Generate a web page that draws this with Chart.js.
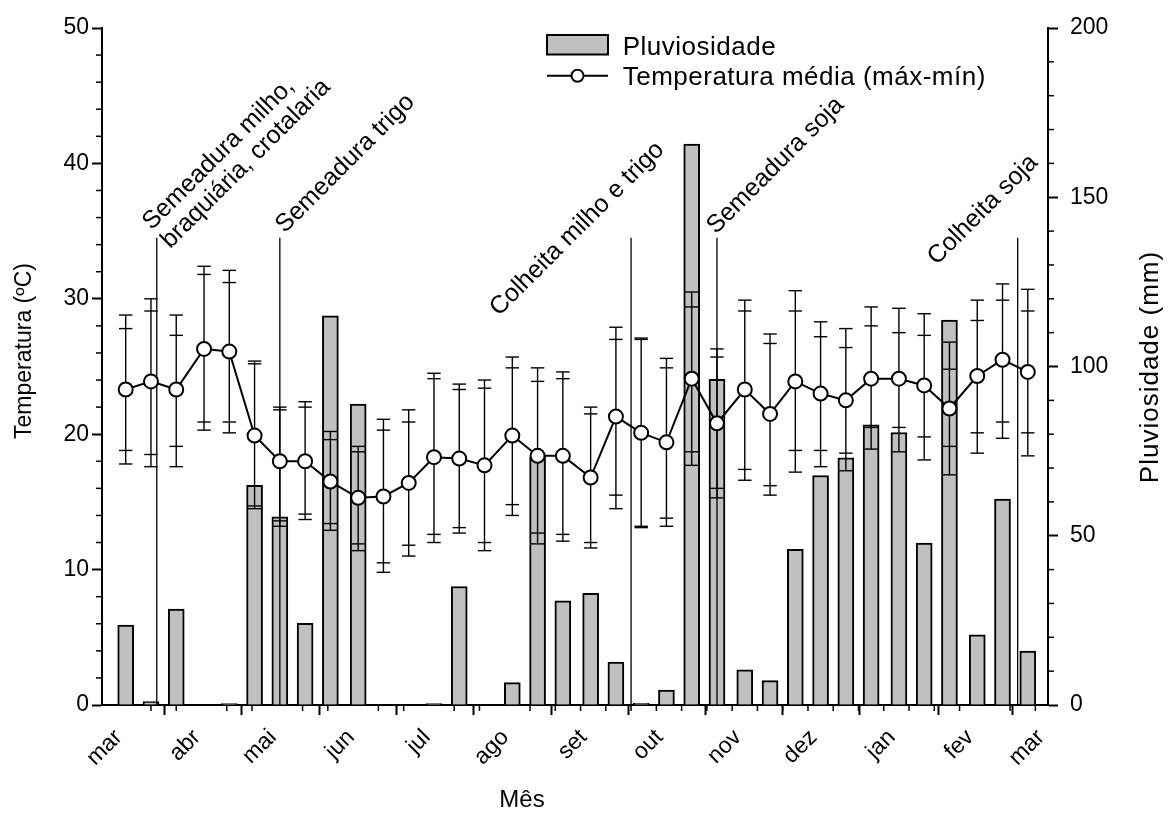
<!DOCTYPE html>
<html>
<head>
<meta charset="utf-8">
<script src="https://cdn.jsdelivr.net/npm/chart.js@4.4.1/dist/chart.umd.min.js"></script>
<style>
html,body{margin:0;padding:0;background:#fff;}
#wrap{width:1173px;height:813px;position:relative;}
</style>
</head>
<body>
<div id="wrap"><canvas id="c"></canvas></div>
<script>
// ---------------- DATA ----------------
const monthLabels = ['mar','abr','mai','jun','jul','ago','set','out','nov','dez','jan','fev','mar'];
const monthLengths = [31,30,31,30,31,31,30,31,30,31,31,28];
const decadeOffsets = [0,10,20];

// Pluviosidade (mm), one value per 10-day period (mar .. fev)
const rain = [23.6, 1.0, 28.3,   0, 0.4, 64.9,  55.6, 24.1, 115.0,  88.9, 0, 0,
              0.4, 35.0, 0,      6.6, 73.3, 30.8,  33.0, 12.7, 0.5,   4.4, 165.7, 96.2,
              10.4, 7.2, 46.0,   67.8, 73.0, 82.8, 80.5, 47.8, 113.7, 20.7, 60.8, 15.9];

// Temperatura média (°C)
const tempMean = [23.3, 23.9, 23.3, 26.3, 26.1, 19.9, 18.0, 18.0, 16.5, 15.3, 15.4, 16.4,
                  18.3, 18.2, 17.7, 19.9, 18.4, 18.4, 16.8, 21.3, 20.1, 19.4, 24.1, 20.8,
                  23.3, 21.5, 23.9, 23.0, 22.5, 24.1, 24.1, 23.6, 21.9, 24.3, 25.5, 24.6];
// whisker caps (máx / mín)
const tempMaxOuter = [28.8, 30.0, 28.8, 32.4, 32.1, 25.4, 22.0, 22.4, 20.2, 19.1, 21.1, 21.8,
                      24.5, 23.7, 24.0, 25.7, 24.9, 24.6, 22.0, 27.9, 27.1, 25.6, 30.5, 26.3,
                      29.9, 27.4, 30.6, 28.3, 27.8, 29.4, 29.3, 28.9, 26.8, 29.9, 31.1, 30.7];
const tempMaxInner = [27.8, 29.1, 27.3, 31.8, 31.2, 25.2, 21.8, 22.0, 19.6, 18.7, 20.3, 20.9,
                      24.1, 23.3, 23.4, 24.9, 23.9, 24.1, 21.5, 27.0, 27.0, 24.9, 29.4, 25.7,
                      29.1, 26.7, 29.1, 27.2, 26.4, 28.0, 27.5, 27.3, 24.8, 28.4, 29.9, 29.1];
const tempMinInner = [18.8, 18.5, 19.1, 20.9, 20.9, 14.7, 13.6, 14.1, 13.4, 11.9, 10.5, 11.8,
                      12.6, 13.1, 12.0, 14.8, 12.7, 12.6, 12.0, 15.5, 13.2, 13.8, 18.7, 16.0,
                      17.4, 16.2, 18.8, 18.8, 18.6, 20.5, 20.5, 19.8, 19.1, 20.1, 20.9, 20.1];
const tempMinOuter = [17.8, 17.6, 17.6, 20.3, 20.1, 14.5, 13.2, 13.7, 12.9, 11.4,  9.8, 11.0,
                      12.0, 12.7, 11.4, 14.0, 11.9, 12.1, 11.6, 14.5, 13.1, 13.2, 17.7, 15.3,
                      16.6, 15.5, 17.2, 17.6, 17.3, 18.9, 18.7, 18.1, 17.0, 18.6, 19.7, 18.4];

// Field operations (day counted from 1 March)
const eventDays = [12.3, 61, 200, 234, 353];
const eventLabels = [['Semeadura milho,', 'braquiária, crotalaria'], ['Semeadura trigo'],
                     ['Colheita milho e trigo'], ['Semeadura soja'], ['Colheita soja']];
const eventTop = 34.5; // top of the marker lines, on the temperature scale

// ---------------- DERIVED (calendar) ----------------
const monthStarts = [];
{ let acc = 0; monthLengths.forEach(L => { monthStarts.push(acc); acc += L; }); monthStarts.push(acc); }
const pointDays = [];
monthStarts.slice(0, 12).forEach(s => decadeOffsets.forEach(o => pointDays.push(s + o)));

// ---------------- STYLE ----------------
const FONT = '"Liberation Sans", Arial, Helvetica, sans-serif';
const labelOffsets = [[-5, -7], [5, -4], [-132, 79], [-1, -3], [-81, 28]];

const overlay = {
  id: 'overlay',
  beforeDatasetDraw(chart, args) {
    if (args.index !== 1) return;
    const ctx = chart.ctx, x = chart.scales.x, y = chart.scales.y;
    ctx.save();
    ctx.strokeStyle = '#000';
    // event marker lines
    ctx.lineWidth = 1.3;
    eventDays.forEach(d => {
      const px = x.getPixelForValue(d);
      ctx.beginPath();
      ctx.moveTo(px, y.getPixelForValue(eventTop));
      ctx.lineTo(px, y.getPixelForValue(0));
      ctx.stroke();
    });
    // error bars
    ctx.lineWidth = 1.4;
    pointDays.forEach((d, i) => {
      const px = x.getPixelForValue(d);
      ctx.beginPath();
      ctx.moveTo(px, y.getPixelForValue(tempMaxOuter[i]));
      ctx.lineTo(px, y.getPixelForValue(tempMinOuter[i]));
      ctx.stroke();
      [tempMaxOuter, tempMaxInner, tempMinInner, tempMinOuter].forEach(arr => {
        const py = y.getPixelForValue(arr[i]);
        ctx.beginPath();
        ctx.moveTo(px - 6.7, py);
        ctx.lineTo(px + 6.7, py);
        ctx.stroke();
      });
    });
    ctx.restore();
  },
  afterDraw(chart) {
    const ctx = chart.ctx, x = chart.scales.x, y = chart.scales.y, y2 = chart.scales.y2;
    const ca = chart.chartArea;
    ctx.save();
    ctx.strokeStyle = '#000';
    ctx.fillStyle = '#000';
    // minor ticks
    ctx.lineWidth = 1.5;
    for (let d = 10; d < 365; d += 10) {
      if (monthStarts.some(m => Math.abs(m - d) <= 3)) continue;
      const px = x.getPixelForValue(d);
      ctx.beginPath(); ctx.moveTo(px, ca.bottom); ctx.lineTo(px, ca.bottom + 6); ctx.stroke();
    }
    for (let v = 2; v < 50; v += 2) {
      if (v % 10 === 0) continue;
      const py = y.getPixelForValue(v);
      ctx.beginPath(); ctx.moveTo(ca.left - 6, py); ctx.lineTo(ca.left, py); ctx.stroke();
    }
    for (let v = 10; v < 200; v += 10) {
      if (v % 50 === 0) continue;
      const py = y2.getPixelForValue(v);
      ctx.beginPath(); ctx.moveTo(ca.right, py); ctx.lineTo(ca.right + 6, py); ctx.stroke();
    }
    // event labels
    ctx.font = '25px ' + FONT;
    ctx.textAlign = 'left';
    ctx.textBaseline = 'alphabetic';
    eventLabels.forEach((lines, k) => {
      const px = x.getPixelForValue(eventDays[k]) + labelOffsets[k][0];
      const py = y.getPixelForValue(eventTop) + labelOffsets[k][1];
      ctx.save();
      ctx.translate(px, py);
      ctx.rotate(-Math.PI / 4);
      lines.forEach((t, j) => ctx.fillText(t, 0, j * 26));
      ctx.restore();
    });
    // axis titles
    ctx.textAlign = 'center';
    ctx.textBaseline = 'middle';
    ctx.font = '23px ' + FONT;
    ctx.save(); ctx.translate(25, 351); ctx.rotate(-Math.PI / 2);
    ctx.fillText('Temperatura (ºC)', 0, 0); ctx.restore();
    ctx.save(); ctx.font = '26px ' + FONT; ctx.letterSpacing = '1px';
    ctx.translate(1151, 367); ctx.rotate(-Math.PI / 2);
    ctx.fillText('Pluviosidade (mm)', 0, 0); ctx.restore();
    ctx.font = '24px ' + FONT;
    ctx.textBaseline = 'alphabetic';
    ctx.fillText('Mês', 522, 807);
    // legend
    ctx.textAlign = 'left';
    ctx.font = '26px ' + FONT;
    ctx.letterSpacing = '0.5px';
    ctx.lineWidth = 2;
    ctx.fillStyle = '#c0c0c0';
    ctx.fillRect(547, 35, 61, 19.5);
    ctx.strokeRect(547, 35, 61, 19.5);
    ctx.fillStyle = '#000';
    ctx.fillText('Pluviosidade', 622.7, 54.5);
    ctx.beginPath(); ctx.moveTo(547, 75.7); ctx.lineTo(608, 75.7); ctx.stroke();
    ctx.beginPath(); ctx.arc(577.5, 75.7, 6, 0, Math.PI * 2);
    ctx.fillStyle = '#fff'; ctx.fill(); ctx.stroke();
    ctx.fillStyle = '#000';
    ctx.fillText('Temperatura média (máx-mín)', 622.7, 84.5);
    ctx.restore();
  }
};

const axisGrid = { drawOnChartArea: false, drawTicks: true, tickLength: 10, tickWidth: 2, tickColor: '#000' };
const axisBorder = { display: true, color: '#000', width: 2 };

new Chart(document.getElementById('c'), {
  type: 'bar',
  data: {
    datasets: [
      {
        type: 'bar',
        label: 'Pluviosidade',
        data: pointDays.map((d, i) => ({ x: d, y: rain[i] })),
        yAxisID: 'y2',
        backgroundColor: '#c0c0c0',
        borderColor: '#000',
        borderWidth: 2,
        borderSkipped: 'start',
        barThickness: 16,
        order: 2
      },
      {
        type: 'line',
        label: 'Temperatura média (máx-mín)',
        data: pointDays.map((d, i) => ({ x: d, y: tempMean[i] })),
        yAxisID: 'y',
        borderColor: '#000',
        borderWidth: 2,
        pointRadius: 7,
        pointBorderWidth: 2,
        pointBackgroundColor: '#fff',
        pointBorderColor: '#000',
        tension: 0,
        fill: false,
        order: 1
      }
    ]
  },
  options: {
    responsive: true,
    maintainAspectRatio: false,
    animation: false,
    events: [],
    layout: { padding: { top: 28, left: 0, right: 0, bottom: 0 } },
    plugins: { legend: { display: false }, tooltip: { enabled: false }, title: { display: false } },
    scales: {
      x: {
        type: 'linear',
        min: -9.38,
        max: 365,
        offset: false,
        afterBuildTicks: s => { s.ticks = monthStarts.map(v => ({ value: v })); },
        afterFit: s => { s.height = 108; s.paddingLeft = 0; s.paddingRight = 0; },
        grid: axisGrid,
        border: axisBorder,
        ticks: {
          autoSkip: false, minRotation: 45, maxRotation: 45, padding: 9, labelOffset: -7,
          color: '#000', font: { size: 23, family: FONT },
          callback: (v, i) => monthLabels[i]
        }
      },
      y: {
        position: 'left',
        min: 0, max: 50,
        afterFit: s => { s.width = 102; s.paddingTop = 0; s.paddingBottom = 0; },
        grid: axisGrid,
        border: axisBorder,
        ticks: { stepSize: 10, padding: 3, color: '#000', font: { size: 23, family: FONT } }
      },
      y2: {
        position: 'right',
        min: 0, max: 200,
        afterFit: s => { s.width = 125; s.paddingTop = 0; s.paddingBottom = 0; },
        grid: axisGrid,
        border: axisBorder,
        ticks: { stepSize: 50, padding: 12, color: '#000', font: { size: 23, family: FONT } }
      }
    }
  },
  plugins: [overlay]
});
</script>
</body>
</html>
